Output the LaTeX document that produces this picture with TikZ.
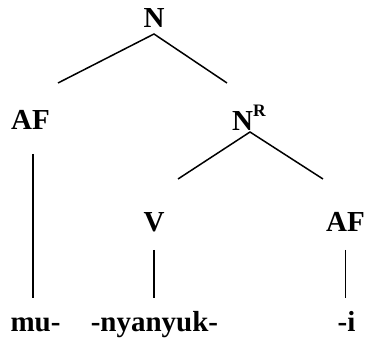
\documentclass[tikz,border=0pt]{standalone}
\usepackage{fontspec}
\setmainfont{Liberation Serif}
\begin{document}
\begin{tikzpicture}[x=1pt,y=-1pt,
  lbl/.style={inner sep=0pt,anchor=base,font=\fontsize{29}{34}\selectfont\bfseries},
  edge/.style={line width=1.5pt}]
\useasboundingbox (0,0) rectangle (368,342);
% nodes
\node[lbl] (N) at (154,28) {N};
\node[lbl] (AFl) at (30.5,130) {AF};
\node[lbl,anchor=base west] (NR) at (232,131) {N\raisebox{14pt}{\fontsize{17.5}{20}\selectfont R}};
\node[lbl] (V) at (154,232) {V};
\node[lbl] (AFr) at (345.5,232) {AF};
\node[lbl] (mu) at (35.5,332) {mu-};
\node[lbl] (ny) at (154.5,332) {-nyanyuk-};
\node[lbl] (i) at (346.5,332) {-i};
% line ends
\coordinate (Nb) at (154,34);
\coordinate (AFlt) at (58,83);
\coordinate (NRt) at (227,83);
\coordinate (NRb) at (250,132);
\coordinate (Vt) at (178,179);
\coordinate (AFrt) at (323,179);
\coordinate (AFlb) at (33,154);
\coordinate (mut) at (33,298);
\coordinate (Vb) at (154,250);
\coordinate (nyt) at (154,298);
\coordinate (AFrb) at (345.7,250);
\coordinate (it) at (345.7,298);
% edges
\draw[edge] (AFlt) -- (Nb) -- (NRt);
\draw[edge] (Vt) -- (NRb) -- (AFrt);
\draw[edge] (AFlb) -- (mut);
\draw[edge] (Vb) -- (nyt);
\draw[edge] (AFrb) -- (it);
\end{tikzpicture}
\end{document}
